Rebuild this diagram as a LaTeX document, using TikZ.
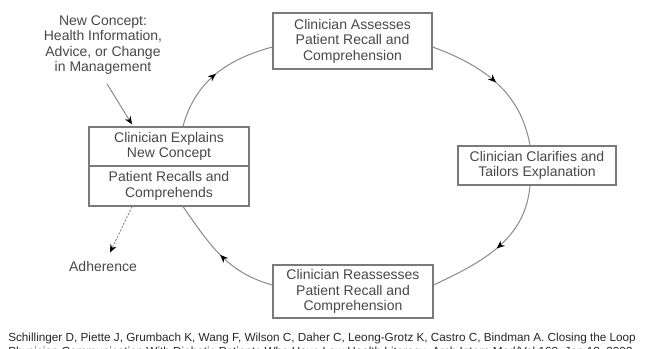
\documentclass[tikz,border=0pt]{standalone}
\usepackage{fontspec}
\setmainfont{Liberation Sans}
\usetikzlibrary{arrows.meta,decorations.markings}
\definecolor{txt}{HTML}{474747}
\definecolor{ln}{HTML}{8A8A8A}
\definecolor{bx}{HTML}{7A7A7A}
\begin{document}
\begin{tikzpicture}[x=0.75pt,y=-0.75pt,
  lbl/.style={align=center, inner sep=0pt, text=txt, font=\fontsize{10.5pt}{11.6pt}\selectfont},
  box/.style={lbl, draw=bx, line width=0.9pt},
  tip/.style={-{Stealth[length=6pt,width=5pt,color=black]}},
  cyc/.style={draw=ln, line width=0.75pt, postaction={decorate},
    decoration={markings, mark=at position 0.5 with {\arrow{Stealth[length=6pt,width=5pt,color=black]}}}},
  reftext/.style={anchor=base west, inner sep=0pt, text=black!85, font=\fontsize{8.8pt}{10pt}\selectfont}
]
\useasboundingbox (0,0) rectangle (646,349);

\node[lbl] (newc) at (103,45) {New Concept:\\Health Information,\\Advice, or Change\\in Management};
\node[box, minimum width=119.25pt, minimum height=42pt] (assess) at (352.5,41) {Clinician Assesses\\Patient Recall and\\Comprehension};
\node[box, minimum width=118.5pt, minimum height=29.25pt] (clarify) at (537,165.5) {Clinician Clarifies and\\Tailors Explanation};
\node[box, minimum width=120pt, minimum height=39.75pt] (reassess) at (353,291.5) {Clinician Reassesses\\Patient Recall and\\Comprehension};
\node[box, minimum width=120pt, minimum height=29.25pt] (explains) at (169,146.5) {Clinician Explains\\New Concept};
\node[box, minimum width=120pt, minimum height=30pt] (recalls) at (169,186) {Patient Recalls and\\Comprehends};
\node[lbl] (adh) at (103,266) {Adherence};

\draw[ln, line width=0.75pt, tip] ([xshift=3pt,yshift=-6.75pt]newc.south) -- ([xshift=-27.75pt,yshift=1.5pt]explains.north);
\draw[ln, line width=0.75pt, dash pattern=on 1.5pt off 1.2pt, tip] ([xshift=-27.75pt]recalls.south) -- ([xshift=5.25pt,yshift=6pt]adh.north);

\draw[cyc] ([xshift=10.5pt]explains.north) to[out=75,in=195] ([yshift=-4.5pt]assess.west);
\draw[cyc] ([yshift=-4.5pt]assess.east) to[out=-20,in=100] ([xshift=-5.25pt]clarify.north);
\draw[cyc] ([xshift=-5.25pt]clarify.south) to[out=-95,in=25] ([yshift=4.9pt]reassess.east);
\draw[cyc] ([yshift=4.9pt]reassess.west) to[out=165,in=-55] ([xshift=10.5pt]recalls.south);

\node[reftext] (ref1) at (8,341) {Schillinger D, Piette J, Grumbach K, Wang F, Wilson C, Daher C, Leong-Grotz K, Castro C, Bindman A. Closing the Loop};
\node[reftext] (ref2) at (8,355) {Physician Communication With Diabetic Patients Who Have Low Health Literacy. Arch Intern Med/Vol 163, Jan 13, 2003};
\end{tikzpicture}
\end{document}
